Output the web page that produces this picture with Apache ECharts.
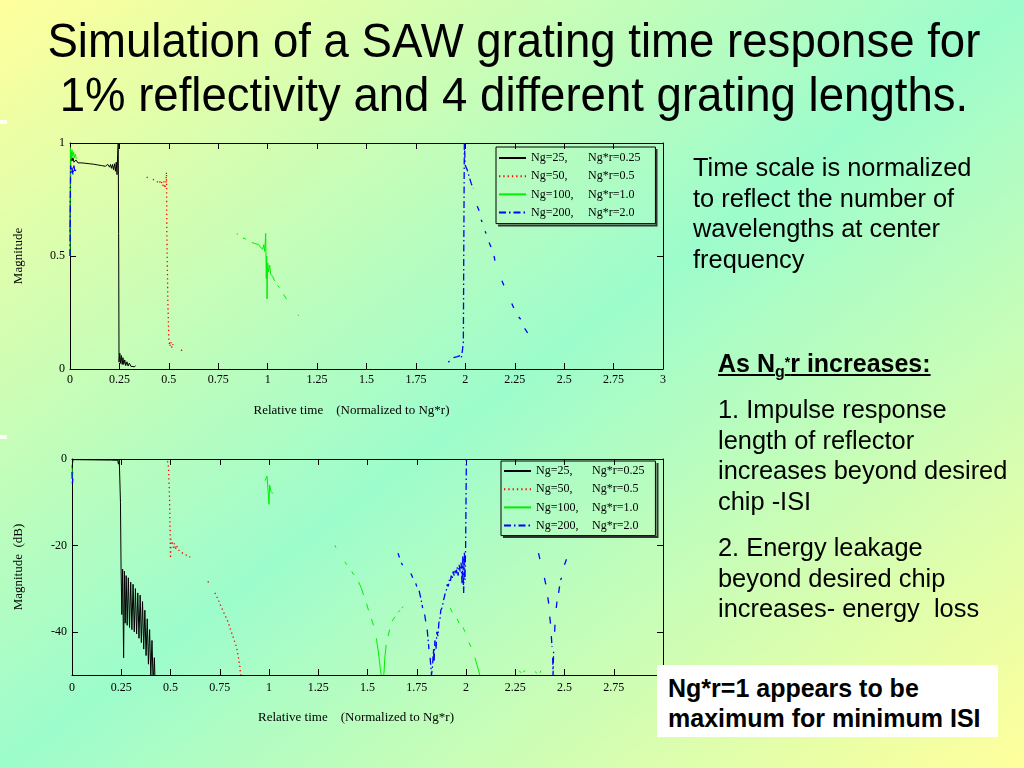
<!DOCTYPE html>
<html><head><meta charset="utf-8">
<script src="https://cdn.jsdelivr.net/npm/echarts@6/dist/echarts.min.js"></script>
<style>
html,body{margin:0;padding:0;width:1024px;height:768px;overflow:hidden;}
body{position:relative;background:linear-gradient(to bottom right,#ffff9c 0%,#9dfccc 50%,#ffff9c 100%);font-family:"Liberation Sans",Arial,sans-serif;color:#000;}
#chart{position:absolute;left:0;top:0;width:1024px;height:768px;}
.t{position:absolute;white-space:nowrap;}
#title{left:0;width:1028px;top:13px;text-align:center;font-size:49px;line-height:54px;transform:scaleX(0.93);transform-origin:513px 0;}
.side{font-size:25.4px;line-height:30.7px;left:693px;}
.list{font-size:25.4px;line-height:30.7px;left:718px;}
#head{font-weight:bold;text-decoration:underline;font-size:25px;line-height:31px;left:718px;top:348px;}
#head sub{font-size:16px;vertical-align:-5px;line-height:0;}
#head sup{font-size:14px;vertical-align:5px;line-height:0;}
#box{position:absolute;left:657px;top:665px;width:330px;height:64px;padding:8px 0 0 11px;background:#fff;font-weight:bold;font-size:25px;line-height:30px;white-space:nowrap;}
.mark{position:absolute;left:0;width:7px;height:4px;background:rgba(255,255,255,0.85);}
</style></head><body>
<div id="chart"></div>
<div class="t" id="title">Simulation of a SAW grating time response for<br>1% reflectivity and 4 different grating lengths.</div>
<div class="t side" style="top:152px;">Time scale is normalized<br>to reflect the number of<br>wavelengths at center<br>frequency</div>
<div class="t" id="head">As N<sub>g</sub><sup>*</sup>r increases:</div>
<div class="t list" style="top:394px;">1. Impulse response<br>length of reflector<br>increases beyond desired<br>chip -ISI</div>
<div class="t list" style="top:532px;">2. Energy leakage<br>beyond desired chip<br>increases- energy&nbsp; loss</div>
<div id="box">Ng*r=1 appears to be<br>maximum for minimum ISI</div>
<div class="mark" style="top:120px;"></div>
<div class="mark" style="top:435px;"></div>
<script>
// ---------- data ----------
const G = '-';
const legendLeft = ['Ng=25,', 'Ng=50,', 'Ng=100,', 'Ng=200,'];
const legendRight = ['Ng*r=0.25', 'Ng*r=0.5', 'Ng*r=1.0', 'Ng*r=2.0'];
const xTickInterval = 0.25;
const magTicks = [0, 0.5, 1];
const dbTicks = [-40, -20, 0];

// linear magnitude (top plot)
const magNg25 = [[0,0.6],[0.004,0.96],[0.01,0.92],[0.015,0.935],[0.02,0.915],[0.03,0.925],[0.04,0.912],[0.05,0.92],[0.06,0.912],[0.07,0.918],[0.08,0.91],[0.09,0.916],[0.1,0.908],[0.11,0.914],[0.12,0.906],[0.13,0.912],[0.14,0.903],[0.15,0.91],[0.16,0.9],[0.17,0.908],[0.18,0.897],[0.19,0.906],[0.2,0.893],[0.205,0.905],[0.21,0.888],[0.215,0.905],[0.22,0.882],[0.225,0.908],[0.23,0.875],[0.234,0.915],[0.238,0.86],[0.241,0.95],[0.244,1.0],[0.246,0.6],[0.248,0.03],[0.252,0.07],[0.256,0.025],[0.26,0.06],[0.264,0.02],[0.268,0.05],[0.272,0.02],[0.277,0.04],[0.282,0.015],[0.288,0.032],[0.294,0.013],[0.3,0.026],[0.308,0.012],[0.316,0.02],[0.325,0.01],[0.332,0.014]];
const magNg50 = [[0,0.55],[0.003,0.9],[0.01,0.88],[0.02,0.895],G,[0.388,0.85],[0.395,0.845],G,[0.42,0.84],[0.43,0.83],G,[0.44,0.83],[0.45,0.82],[0.46,0.835],[0.47,0.81],[0.475,0.83],[0.48,0.8],[0.485,0.82],[0.488,0.87],[0.49,0.6],[0.495,0.3],[0.5,0.13],[0.505,0.1],[0.51,0.12],[0.515,0.095],[0.52,0.11],[0.525,0.1],G,[0.562,0.085],[0.568,0.08]];
const magNg100 = [[0,0.5],[0.002,0.98],[0.006,0.93],[0.01,0.97],[0.014,0.94],[0.018,0.96],[0.022,0.935],[0.027,0.95],[0.032,0.93],G,[0.843,0.6],[0.85,0.595],G,[0.875,0.58],[0.89,0.575],G,[0.92,0.56],[0.935,0.555],[0.945,0.548],[0.955,0.55],[0.962,0.54],[0.97,0.545],[0.975,0.53],[0.98,0.55],[0.985,0.52],[0.99,0.6],[0.993,0.4],[0.995,0.5],[0.997,0.31],[1.0,0.47],[1.005,0.43],[1.01,0.46],[1.015,0.42],[1.025,0.41],[1.035,0.39],G,[1.05,0.37],[1.06,0.36],G,[1.08,0.33],[1.095,0.31],G,[1.152,0.24],[1.158,0.235]];
const magNg200 = [[0,0.5],[0.003,0.9],[0.006,0.87],[0.01,0.89],[0.015,0.86],[0.02,0.9],[0.025,0.87],[0.03,0.885],[0.035,0.875],G,[1.914,0.03],[1.92,0.035],G,[1.94,0.05],[1.95,0.045],[1.96,0.055],[1.97,0.048],[1.975,0.06],[1.98,0.05],[1.985,0.08],[1.99,0.12],[1.992,0.5],[1.995,1.0],[2.0,0.9],[2.01,0.88],[2.02,0.85],[2.03,0.82],[2.04,0.8],G,[2.06,0.72],[2.07,0.7],G,[2.08,0.66],[2.085,0.65],G,[2.1,0.61],[2.105,0.6],G,[2.12,0.56],[2.13,0.54],G,[2.145,0.5],[2.15,0.48],G,[2.185,0.39],[2.195,0.37],G,[2.235,0.29],[2.245,0.27],G,[2.27,0.23],[2.28,0.22],G,[2.3,0.18],[2.315,0.16]];

// magnitude in dB (bottom plot)
const dbNg25 = [[0,-2],[0.005,-0.15],[0.1,-0.2],[0.2,-0.25],[0.232,-0.3],[0.236,-1.2],[0.24,-0.2],[0.243,-0.1],[0.246,-10],[0.249,-25],[0.253,-36],[0.257,-25.5],[0.262,-46],[0.266,-26],[0.27,-38],[0.275,-27],[0.28,-38.5],[0.286,-27.5],[0.292,-39],[0.298,-28.5],[0.304,-39.5],[0.31,-29],[0.316,-40],[0.322,-30],[0.328,-40.5],[0.334,-31],[0.34,-41.5],[0.346,-31.5],[0.352,-42.5],[0.358,-33],[0.364,-44],[0.37,-35],[0.376,-45.5],[0.382,-37],[0.388,-47.5],[0.394,-39.5],[0.4,-50],[0.406,-42],[0.412,-52],[0.418,-46],[0.424,-55]];
const dbNg50 = [[0.485,-0.5],[0.49,-2],[0.495,-9],[0.498,-16],[0.5,-23],[0.503,-18.5],[0.508,-19],[0.515,-20.5],[0.52,-19.5],[0.525,-21],[0.53,-20],[0.54,-21],[0.55,-21.5],[0.57,-22],[0.6,-22.7],G,[0.69,-28.3],[0.695,-28.8],G,[0.725,-31],[0.74,-32.3],[0.755,-34],[0.77,-35.5],[0.79,-37.5],[0.805,-39.5],[0.82,-41.5],[0.835,-43.5],[0.845,-46],[0.852,-48],[0.856,-50]];
const dbNg100 = [[0,-2],[0.002,-4.5],[0.005,-3],G,[0.98,-5],[0.99,-4],[0.995,-7],[1.0,-10.5],[1.003,-6],[1.01,-7.5],[1.02,-8],G,[1.335,-20],[1.34,-20.5],G,[1.385,-23.8],[1.395,-24.5],G,[1.42,-26],[1.43,-26.8],G,[1.455,-28.5],[1.47,-30],[1.48,-31.5],G,[1.495,-33.5],[1.505,-35],G,[1.52,-37],[1.53,-38.5],G,[1.545,-41.5],[1.553,-44],[1.56,-46.5],[1.566,-49],[1.57,-50],G,[1.583,-50],[1.588,-46],[1.595,-43],G,[1.605,-41],[1.612,-39.5],G,[1.625,-37.5],[1.64,-36.5],G,[1.655,-35.5],[1.665,-35],G,[1.675,-34.5],[1.68,-34.2],G,[1.92,-34.5],[1.93,-35.5],G,[1.955,-37],[1.965,-38],G,[1.985,-39],[1.995,-40],G,[2.015,-42.5],[2.025,-43.5],G,[2.045,-46],[2.055,-47.5],[2.07,-50],G,[2.27,-49],[2.28,-49.5],G,[2.29,-49.3],[2.3,-49],G,[2.35,-49.2],[2.36,-49.6],G,[2.375,-49.5],[2.38,-49]];
const dbNg200 = [[0,-3],[0.002,-6],[0.004,-4.5],G,[1.655,-21.8],[1.662,-22.8],G,[1.672,-24],[1.678,-24.6],G,[1.72,-26.5],[1.73,-27.5],G,[1.745,-28.8],[1.75,-29.5],G,[1.762,-30.5],[1.772,-32.5],[1.78,-34.5],G,[1.79,-36],[1.797,-38],G,[1.803,-39.5],[1.808,-42],[1.812,-44],G,[1.818,-46],[1.825,-50],[1.83,-48],[1.835,-44],[1.838,-47],[1.842,-42],[1.848,-44],[1.852,-40],[1.858,-41],[1.862,-38],[1.868,-37],[1.872,-35],[1.878,-34.5],[1.885,-33],[1.892,-31.5],[1.9,-30.5],[1.905,-29],[1.91,-29.5],[1.915,-28],[1.92,-28.5],[1.925,-27],[1.93,-27.8],[1.935,-26],[1.94,-27],[1.945,-25.5],[1.95,-26.5],[1.955,-25],[1.96,-27],[1.965,-24.5],[1.97,-26],[1.975,-24],[1.98,-29],[1.984,-22.5],[1.988,-31],[1.992,-21.5],[1.995,-28],[1.998,-20.5],[2.0,-10],[2.002,0],G,[2.368,-21.8],[2.375,-23.2],G,[2.398,-27.5],[2.405,-29],G,[2.415,-32],[2.42,-33.5],G,[2.425,-36.5],[2.43,-38.5],G,[2.433,-41],[2.437,-43.5],G,[2.44,-46],[2.442,-50],[2.445,-44],G,[2.45,-40],[2.452,-38],G,[2.458,-34.5],[2.462,-33],G,[2.47,-31],[2.475,-29.5],G,[2.48,-28],[2.485,-27.5],G,[2.5,-24.5],[2.51,-23.2]];

// ---------- chart ----------
const names = legendLeft.map((a, i) => a + ' ' + legendRight[i]);
const styles = [
  {color: '#000000', width: 1, type: 'solid'},
  {color: '#ff0000', width: 1.3, type: [1.3, 3]},
  {color: '#00ee00', width: 1, type: 'solid'},
  {color: '#0000ff', width: 1.3, type: [7, 3, 1.5, 3]}
];
const magSets = [magNg25, magNg50, magNg100, magNg200];
const dbSets = [dbNg25, dbNg50, dbNg100, dbNg200];

const serif = '"Liberation Serif","Times New Roman",serif';
function xAx(g, pos, showLabel, margin, name, nameGap, padR) {
  return {
    type: 'value', gridIndex: g, position: pos, min: 0, max: 3, interval: xTickInterval,
    axisLine: {show: true, onZero: false, lineStyle: {color: '#000', width: 1}},
    axisTick: {show: true, inside: true, length: 6, lineStyle: {color: '#000'}},
    axisLabel: {show: showLabel, color: '#000', fontFamily: serif, fontSize: 12, margin: margin},
    splitLine: {show: false},
    name: name || '', nameLocation: 'middle', nameGap: nameGap || 0,
    nameTextStyle: {color: '#000', fontFamily: serif, fontSize: 13, padding: [0, padR || 0, 0, 0]}
  };
}
function yAx(g, pos, showLabel, min, max, ticks, name, nameGap) {
  return {
    type: 'value', gridIndex: g, position: pos, min: min, max: max,
    axisLine: {show: true, onZero: false, lineStyle: {color: '#000', width: 1}},
    axisTick: {show: true, inside: true, length: 6, lineStyle: {color: '#000'}, customValues: ticks},
    axisLabel: {show: showLabel, color: '#000', fontFamily: serif, fontSize: 12, margin: 5, customValues: ticks},
    splitLine: {show: false},
    name: name || '', nameLocation: 'middle', nameGap: nameGap || 0,
    nameTextStyle: {color: '#000', fontFamily: serif, fontSize: 13}
  };
}
const series = [];
magSets.forEach((d, i) => series.push({
  type: 'line', name: names[i], xAxisIndex: 0, yAxisIndex: 0, data: d,
  symbol: 'none', color: styles[i].color, itemStyle: {color: styles[i].color},
  lineStyle: styles[i], connectNulls: false, animation: false, silent: true
}));
dbSets.forEach((d, i) => series.push({
  type: 'line', name: names[i], xAxisIndex: 2, yAxisIndex: 2, data: d,
  symbol: 'none', color: styles[i].color, itemStyle: {color: styles[i].color},
  lineStyle: styles[i], connectNulls: false, animation: false, silent: true
}));

function legendCfg(left, top, wa, pad) {
  return {
    show: true, orient: 'vertical', left: left, top: top, padding: pad,
    itemWidth: 27, itemHeight: 12, itemGap: 6.2,
    borderColor: '#000', borderWidth: 1, selectedMode: false,
    itemStyle: {opacity: 0, borderWidth: 0},
    data: names,
    formatter: n => { const i = names.indexOf(n); return '{a|' + legendLeft[i] + '}{b|' + legendRight[i] + '}'; },
    textStyle: {color: '#000', fontFamily: serif, fontSize: 12,
      rich: {a: {width: wa, fontFamily: serif, fontSize: 12, color: '#000'}, b: {fontFamily: serif, fontSize: 12, color: '#000'}}}
  };
}

const chart = echarts.init(document.getElementById('chart'), null, {renderer: 'canvas'});
chart.setOption({
  backgroundColor: 'transparent',
  animation: false,
  grid: [
    {left: 70, top: 143, width: 593, height: 226},
    {left: 72, top: 459, width: 591, height: 216}
  ],
  xAxis: [
    xAx(0, 'bottom', true, 5, 'Relative time    (Normalized to Ng*r)', 35, 30),
    xAx(0, 'top', false, 5),
    xAx(1, 'bottom', true, 7, 'Relative time    (Normalized to Ng*r)', 36, 23),
    xAx(1, 'top', false, 5)
  ],
  yAxis: [
    yAx(0, 'left', true, 0, 1, magTicks, 'Magnitude', 45),
    yAx(0, 'right', false, 0, 1, magTicks),
    yAx(1, 'left', true, -50, 0, dbTicks, 'Magnitude  (dB)', 47),
    yAx(1, 'right', false, -50, 0, dbTicks)
  ],
  legend: [
    legendCfg(496, 147, 57, [5, 15, 5, 2]),
    legendCfg(501, 461, 56, [4, 11, 4, 2])
  ],
  graphic: [
    {type: 'polyline', silent: true, shape: {points: [[498, 225.5], [656.5, 225.5], [656.5, 149]]}, style: {stroke: '#333', lineWidth: 2, fill: null}},
    {type: 'polyline', silent: true, shape: {points: [[503, 537], [657.5, 537], [657.5, 463]]}, style: {stroke: '#333', lineWidth: 2, fill: null}}
  ],
  series: series
});
</script>
</body></html>
